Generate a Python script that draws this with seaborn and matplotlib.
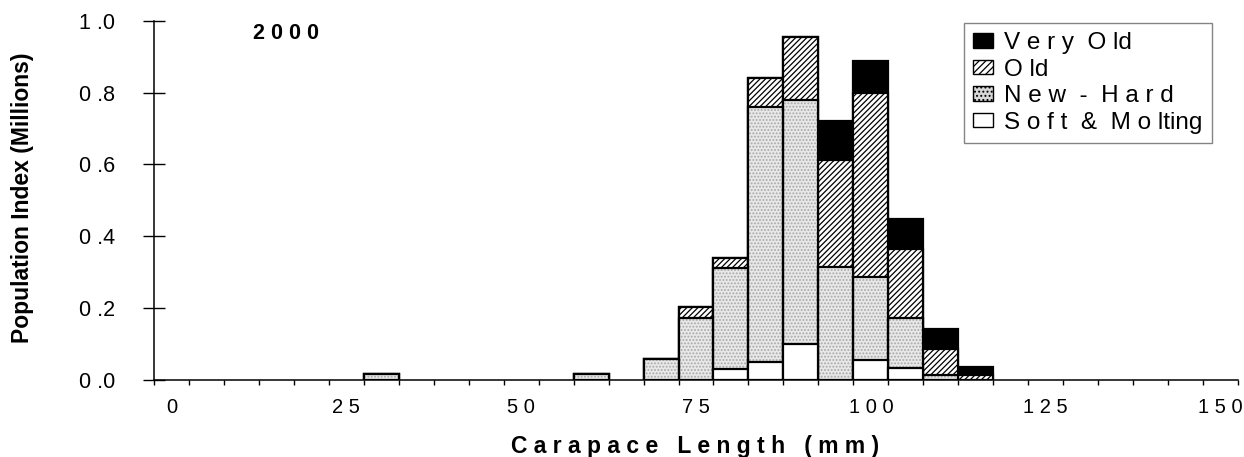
import numpy as np
import pandas as pd
import matplotlib
matplotlib.use("Agg")
import matplotlib.pyplot as plt
import seaborn as sns
from matplotlib.patches import Patch

# length bins (mm), 5 mm classes
lengths = list(range(0, 155, 5))
tick_labels = [str(v) if v % 25 == 0 else "" for v in lengths]

# population index (millions) by shell condition
bar_lengths = [30, 60, 70, 75, 80, 85, 90, 95, 100, 105, 110, 115]
soft_molting = [0.0, 0.0, 0.0, 0.0, 0.028, 0.050, 0.098, 0.0, 0.054, 0.033, 0.0, 0.0]
new_hard = [0.014, 0.014, 0.057, 0.172, 0.283, 0.710, 0.683, 0.314, 0.232, 0.139, 0.012, 0.0]
old = [0.0, 0.0, 0.0, 0.029, 0.028, 0.080, 0.175, 0.298, 0.512, 0.191, 0.072, 0.012]
very_old = [0.0, 0.0, 0.0, 0.0, 0.0, 0.0, 0.0, 0.110, 0.090, 0.084, 0.058, 0.023]

df = pd.DataFrame({"length": bar_lengths, "soft": soft_molting, "new": new_hard,
                   "old": old, "very_old": very_old})
df["c_soft"] = df["soft"]
df["c_new"] = df["c_soft"] + df["new"]
df["c_old"] = df["c_new"] + df["old"]
df["c_very_old"] = df["c_old"] + df["very_old"]

plt.rcParams["font.family"] = ["Liberation Sans", "DejaVu Sans"]
plt.rcParams["hatch.linewidth"] = 0.9

fig = plt.figure(figsize=(12.44, 4.57), dpi=100)
ax = fig.add_axes([154 / 1244, 1 - 379.5 / 457, 1084 / 1244, 358.5 / 457])


def layer(col, **kw):
    d = df[df[col] > 0.001]
    sns.barplot(data=d, x="length", y=col, order=lengths, width=1.0, ax=ax,
                errorbar=None, **kw)


# draw cumulative layers from the top down
layer("c_very_old", color="black", edgecolor="black", linewidth=1.6)
layer("c_old", color="white", edgecolor="black", linewidth=1.6, hatch="//////")
layer("c_new", color="#e8e8e8", edgecolor="#a8a8a8", linewidth=0, hatch=".....")
layer("c_new", fill=False, color="black", linewidth=1.6)
layer("c_soft", color="white", edgecolor="black", linewidth=1.6)

ax.set_xlim(-0.5, len(lengths) - 0.5)
ax.set_ylim(0, 1.0)
ax.set_yticks(np.arange(0, 1.01, 0.2))
ax.set_yticklabels(["0 .0", "0 .2", "0 .4", "0 .6", "0 .8", "1 .0"], fontsize=15.5)
ax.set_xticks(np.arange(len(lengths)))
ax.set_xticklabels([" ".join(t) for t in tick_labels], fontsize=14.5)
ax.set_xticks(np.arange(len(lengths) + 1) - 0.5, minor=True)
ax.tick_params(axis="x", which="major", length=0, pad=13)
ax.tick_params(axis="x", which="minor", length=3.6, width=1, direction="out")
ax.tick_params(axis="y", length=16, width=1, direction="inout", pad=20)

for s in ["top", "right"]:
    ax.spines[s].set_visible(False)
for s in ["left", "bottom"]:
    ax.spines[s].set_linewidth(1.1)

ax.set_xlabel("C a r a p a c e   L e n g t h   ( m m )", fontsize=16.5,
              fontweight="bold")
ax.xaxis.set_label_coords(0.499, -0.1855)
ax.xaxis.label.set_va("center")
ax.set_ylabel("Population Index (Millions)", fontsize=16.5, fontweight="bold")
ax.yaxis.set_label_coords(-0.121, 0.506)
ax.yaxis.label.set_va("center")

ax.text(0.0915, 0.966, "2 0 0 0", transform=ax.transAxes, fontsize=15.5,
        fontweight="bold", va="center", ha="left")

handles = [
    Patch(facecolor="black", edgecolor="black", label="V e r y  O ld"),
    Patch(facecolor="white", edgecolor="black", hatch="/////", label="O ld"),
    Patch(facecolor="#d8d8d8", edgecolor="black", hatch="....", label="N e w  -  H a r d"),
    Patch(facecolor="white", edgecolor="black", label="S o f t  &  M o lting"),
]
leg = ax.legend(handles=handles, loc="upper right", bbox_to_anchor=(0.976, 0.994),
                fontsize=17.5, frameon=True, fancybox=False, edgecolor="#666666",
                handlelength=0.85, handleheight=0.55, handletextpad=0.45,
                labelspacing=0.18, borderpad=0.38, borderaxespad=0)
leg.get_frame().set_linewidth(1.0)

fig.savefig("out.png", dpi=100)
